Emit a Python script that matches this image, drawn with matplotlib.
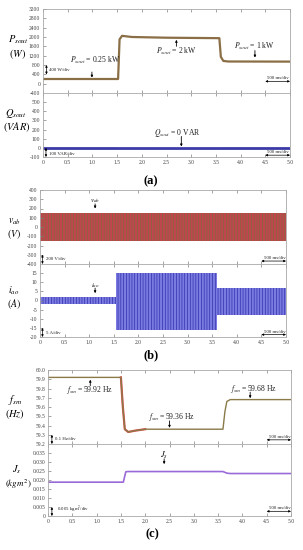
import matplotlib
matplotlib.use("Agg")
import matplotlib.pyplot as plt
import numpy as np

plt.rcParams['font.family'] = ['Liberation Serif', 'DejaVu Serif']
plt.rcParams['mathtext.fontset'] = 'stix'
plt.rcParams['hatch.linewidth'] = 0.45

# ---------------- data ----------------
x_ticks = [0, 0.5, 1.0, 1.5, 2.0, 2.5, 3.0, 3.5, 4.0, 4.5, 5.0]
x_ticklabels = ["0", "0.5", "1.0", "1.5", "2.0", "2.5", "3.0", "3.5", "4.0", "4.5", "5.0"]

# (a) active power P_sout [W]
t_P = [0, 1.52, 1.55, 1.6, 1.8, 2.5, 3.57, 3.6, 3.65, 3.75, 5.0]
P_sout = [200, 200, 1900, 2050, 2000, 1970, 1950, 1150, 975, 950, 945]
# reactive power Q_sout [VAR]
t_Q = [0, 5.0]
Q_sout = [0, 0]
t_Qr = [1.5, 3.6]
Q_ripple = [12, 12]

# (b) v_ab envelope [V] and i_ao envelope [A]
t_v = [0, 5.0]
v_upper = [150, 150]
v_lower = [-155, -155]
t_i = [0, 1.54, 1.54, 3.6, 3.6, 5.0]
i_upper = [2, 2, 15, 15, 7, 7]
i_lower = [-2, -2, -16, -16, -8, -8]

# (c) frequency f_sm [Hz] and inertia J_s [kgm^2]
t_f = [0, 1.5, 1.54, 1.58, 1.65, 1.8, 2.0, 3.6, 3.64, 3.68, 3.75, 5.0]
f_sm = [59.92, 59.92, 59.6, 59.36, 59.33, 59.345, 59.36, 59.36, 59.55, 59.66, 59.68, 59.68]
t_J = [0, 1.55, 1.6, 1.63, 3.6, 3.68, 3.75, 5.0]
J_s = [0.0188, 0.0188, 0.0245, 0.0247, 0.0247, 0.0238, 0.0236, 0.0236]

W, H = 303, 550
fig = plt.figure(figsize=(W / 100, H / 100), dpi=100)


def ax_at(x0, x1, y0, y1):
    return fig.add_axes([x0 / W, 1 - y1 / H, (x1 - x0) / W, (y1 - y0) / H])


GRAY = '#a8a8a8'


def style(ax, yt, ylabels, show_x):
    ax.set_xlim(0, 5.0)
    ax.set_xticks(x_ticks)
    ax.set_xticklabels(x_ticklabels if show_x else [])
    ax.set_yticks(yt)
    ax.set_yticklabels(ylabels)
    ax.tick_params(axis='both', direction='in', length=2, width=0.5, color='#808080',
                   labelsize=4, labelcolor='#404040', pad=2, top=True, right=False)
    for s in ax.spines.values():
        s.set_color(GRAY)
        s.set_linewidth(0.6)


def fx(x):
    return x / W


def fy(y):
    return 1 - y / H


def vdiv(ax, x, y0, y1):
    ax.annotate('', xy=(x, y1), xytext=(x, y0),
                arrowprops=dict(arrowstyle='<|-|>', lw=0.5, color='k', mutation_scale=3,
                                shrinkA=0, shrinkB=0))


def hdiv(ax, y):
    ax.annotate('', xy=(5.0, y), xytext=(4.5, y),
                arrowprops=dict(arrowstyle='<|-|>', lw=0.5, color='k', mutation_scale=3,
                                shrinkA=0, shrinkB=0))


def arrow(ax, x, y0, y1):
    ax.annotate('', xy=(x, y1), xytext=(x, y0),
                arrowprops=dict(arrowstyle='-|>', lw=0.6, color='k', mutation_scale=3,
                                shrinkA=0, shrinkB=0))


TXT = dict(fontsize=5.5, color='#202020')
SMALL = dict(fontsize=3.5, color='#202020')
LAB = 7.5

# ================= (a) =================
axP = ax_at(43, 290, 9, 93)
axQ = ax_at(43, 290, 93, 157)
axP.plot(t_P, P_sout, color='#8a6e45', lw=1.6)
axP.set_ylim(-400, 3200)
style(axP, list(range(-400, 3201, 400)), [str(v) for v in range(-400, 3201, 400)], False)
axP.text(1.06, 976, r'$P_{sout}$ = 0.25 kW', ha='center', va='center', **TXT)
arrow(axP, 0.99, 500, 260)
axP.text(2.7, 1370, r'$P_{sout}$ = 2 kW', ha='center', va='center', **TXT)
arrow(axP, 2.7, 1600, 1880)
axP.text(4.27, 1590, r'$P_{sout}$ = 1 kW', ha='center', va='center', **TXT)
arrow(axP, 4.29, 1420, 1120)
vdiv(axP, 0.07, 800, 400)
axP.text(0.13, 580, '400 W/div', ha='left', va='center', **SMALL)
axP.text(4.75, 230, '500 ms/div', ha='center', va='center', **SMALL)
hdiv(axP, 100)

axQ.plot(t_Q, Q_sout, color='#3a3aa8', lw=2.0)
axQ.plot(t_Qr, Q_ripple, color='#5a5ab8', lw=0.6, ls=(0, (1, 1)))
axQ.set_ylim(-100, 600)
style(axQ, list(range(-100, 501, 100)), [str(v) for v in range(-100, 501, 100)], True)
axQ.text(2.71, 158, r'$Q_{sout}$ = 0 VAR', ha='center', va='center', **TXT)
arrow(axQ, 2.8, 125, 15)
vdiv(axQ, 0.06, 0, -100)
axQ.text(0.13, -68, '100 VAR/div', ha='left', va='center', **SMALL)
axQ.text(4.75, -46, '500 ms/div', ha='center', va='center', **SMALL)
hdiv(axQ, -80)

fig.text(fx(18), fy(40), r'$P_{sout}$', ha='center', va='center', fontsize=LAB)
fig.text(fx(18), fy(54), r'$(W)$', ha='center', va='center', fontsize=LAB)
fig.text(fx(16), fy(113), r'$Q_{sout}$', ha='center', va='center', fontsize=LAB)
fig.text(fx(17), fy(127), r'$(VAR)$', ha='center', va='center', fontsize=LAB)
fig.text(fx(151), fy(181), '(a)', ha='center', va='center', fontsize=9, fontweight='bold')

# ================= (b) =================
axV = ax_at(40, 286, 190, 264)
axI = ax_at(40, 286, 264, 337)
axV.fill_between(t_v, v_lower, v_upper, facecolor='#c0464e', edgecolor='#7a6d3c',
                 hatch='||||||', lw=0)
axV.set_ylim(-400, 400)
style(axV, list(range(-400, 401, 100)), [str(v) for v in range(-400, 401, 100)], False)
axV.text(1.12, 276, r'$v_{ab}$', ha='center', va='center', fontsize=5)
arrow(axV, 1.12, 250, 200)
vdiv(axV, 0.05, -300, -400)
axV.text(0.12, -346, '200 V/div', ha='left', va='center', **SMALL)
axV.text(4.78, -335, '500 ms/div', ha='center', va='center', **SMALL)
hdiv(axV, -368)

axI.fill_between(t_i, i_lower, i_upper, facecolor='#7a7ae0', edgecolor='#2a2aa8',
                 hatch='||||||', lw=0)
axI.set_ylim(-20, 20)
style(axI, list(range(-20, 16, 5)), [str(v) for v in range(-20, 16, 5)], True)
axI.text(1.12, 8.2, r'$i_{ao}$', ha='center', va='center', fontsize=5)
arrow(axI, 1.12, 6.8, 4.0)
vdiv(axI, 0.05, -15, -20)
axI.text(0.12, -17.6, '5 A/div', ha='left', va='center', **SMALL)
axI.text(4.78, -17.0, '500 ms/div', ha='center', va='center', **SMALL)
hdiv(axI, -18.7)

fig.text(fx(14), fy(222), r'$v_{ab}$', ha='center', va='center', fontsize=7)
fig.text(fx(14), fy(234), r'$(V)$', ha='center', va='center', fontsize=7)
fig.text(fx(14), fy(291), r'$i_{ao}$', ha='center', va='center', fontsize=7)
fig.text(fx(14), fy(304), r'$(A)$', ha='center', va='center', fontsize=7)
fig.text(fx(151), fy(355), '(b)', ha='center', va='center', fontsize=9, fontweight='bold')

# ================= (c) =================
axF = ax_at(48, 291, 370, 444)
axJ = ax_at(48, 291, 444, 516)
# red trace visible only around the frequency undershoot
axF.plot(t_f[1:7], f_sm[1:7], color='#e04848', lw=1.6)
axF.plot(t_f, f_sm, color='#8a7a48', lw=1.0)
axF.set_ylim(59.2, 60.0)
fticks = [59.2, 59.3, 59.4, 59.5, 59.6, 59.7, 59.8, 59.9, 60.0]
style(axF, fticks, ['%.1f' % v for v in fticks], False)
axF.text(0.86, 59.78, r'$f_{sm}$ = 59.92 Hz', ha='center', va='center', **TXT)
arrow(axF, 0.87, 59.83, 59.895)
axF.text(2.55, 59.49, r'$f_{sm}$ = 59.36 Hz', ha='center', va='center', **TXT)
arrow(axF, 2.5, 59.45, 59.375)
axF.text(4.22, 59.80, r'$f_{sm}$ = 59.68 Hz', ha='center', va='center', **TXT)
arrow(axF, 4.16, 59.76, 59.695)
vdiv(axF, 0.08, 59.3, 59.2)
axF.text(0.14, 59.25, '0.1 Hz/div', ha='left', va='center', **SMALL)
axF.text(4.78, 59.28, '500 ms/div', ha='center', va='center', **SMALL)
hdiv(axF, 59.245)

axJ.plot(t_J, J_s, color='#9a6ad8', lw=1.2)
axJ.set_ylim(0, 0.04)
jticks = [0, 0.005, 0.010, 0.015, 0.020, 0.025, 0.030, 0.035]
style(axJ, jticks, ['0'] + ['%.3f' % v for v in jticks[1:]], True)
axJ.text(2.39, 0.0339, r'$J_s$', ha='center', va='center', fontsize=6)
arrow(axJ, 2.39, 0.0318, 0.0288)
vdiv(axJ, 0.08, 0.005, 0.0)
axJ.text(0.18, 0.0037, r'0.005 kgm$^2$/div', ha='left', va='center', **SMALL)
axJ.text(4.78, 0.0042, '500 ms/div', ha='center', va='center', **SMALL)
hdiv(axJ, 0.0026)

fig.text(fx(15), fy(400), r'$f_{sm}$', ha='center', va='center', fontsize=LAB)
fig.text(fx(15), fy(414), r'$(Hz)$', ha='center', va='center', fontsize=LAB)
fig.text(fx(17), fy(470), r'$J_s$', ha='center', va='center', fontsize=LAB)
fig.text(fx(18), fy(484), r'$(kgm^2)$', ha='center', va='center', fontsize=6.5)
fig.text(fx(152), fy(534), '(c)', ha='center', va='center', fontsize=9, fontweight='bold')

fig.savefig('out.png', dpi=100)
